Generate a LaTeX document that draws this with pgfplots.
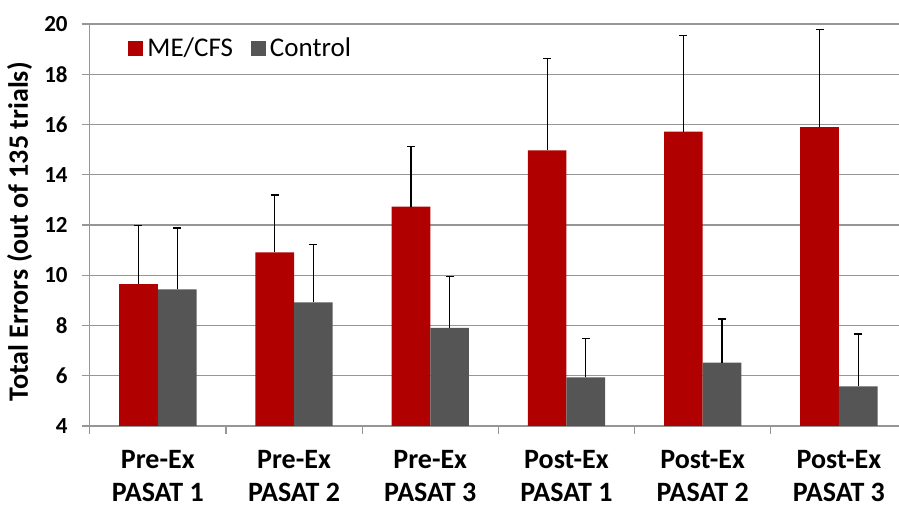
\documentclass[border=0pt]{standalone}
\usepackage{pgfplots}
\pgfplotsset{compat=1.18}
\usepackage{pgfplotstable}
\usepackage{fontspec}
\setmainfont{Carlito}
\definecolor{mered}{RGB}{176,0,0}
\definecolor{ctrlgray}{RGB}{85,85,85}
\definecolor{gridgray}{RGB}{150,150,150}
\pgfplotstableread{
x y err
0 9.65 2.32
1 10.91 2.28
2 12.73 2.40
3 14.97 3.66
4 15.72 3.83
5 15.90 3.87
}\me
\pgfplotstableread{
x y err
0 9.44 2.44
1 8.92 2.31
2 7.91 2.05
3 5.94 1.55
4 6.52 1.74
5 5.58 2.08
}\ctrl
\begin{document}
\begin{tikzpicture}
\begin{axis}[
  scale only axis,
  width=404.65pt, height=201pt,
  xmin=-0.5, xmax=5.441,
  ymin=4, ymax=20,
  ytick={4,6,...,20},
  xtick={0,...,5},
  xticklabels={{Pre-Ex\\PASAT 1},{Pre-Ex\\PASAT 2},{Pre-Ex\\PASAT 3},{Post-Ex\\PASAT 1},{Post-Ex\\PASAT 2},{Post-Ex\\PASAT 3}},
  minor xtick={-0.5,0.5,1.5,2.5,3.5,4.5},
  major x tick style={draw=none},
  minor x tick style={draw=gridgray, line width=0.6pt},
  minor tick length=4pt,
  major tick length=4pt,
  tick align=outside,
  ytick style={draw=gridgray, line width=0.6pt},
  axis x line*=bottom, axis y line*=left,
  axis line style={draw=gridgray, line width=0.6pt, -},
  ymajorgrids,
  grid style={draw=gridgray, line width=0.6pt},
  ybar=0pt, bar width=19.35pt,
  /pgf/number format/assume math mode=true,
  yticklabel style={font=\bfseries\fontsize{11.5}{11.5}\selectfont, xshift=-3.5pt},
  xticklabel style={align=center, font=\bfseries\fontsize{14}{16.5}\selectfont, yshift=-7pt, inner sep=1pt},
  ylabel={\bfseries Total Errors (out of 135 trials)},
  every axis y label/.style={at={(axis description cs:-0.0865,0.483)}, rotate=90, anchor=center, font=\fontsize{14}{14}\selectfont},
  legend style={at={(axis description cs:0.04,0.987)}, anchor=north west, draw=none, fill=none,
    legend columns=2, font=\fontsize{13.5}{13.5}\selectfont,
    /tikz/every even column/.append style={column sep=7pt}},
  legend image code/.code={\fill[#1] (-1pt,-3.75pt) rectangle (6.5pt,3.75pt);},
]
\addplot[fill=mered, draw=none,
  error bars/.cd, y dir=plus, y explicit,
  error bar style={line width=0.6pt, black},
  error mark options={rotate=90, mark size=2pt, line width=0.6pt, black}]
  table[x=x, y=y, y error=err] {\me};
\addlegendentry{ME/CFS}
\addplot[fill=ctrlgray, draw=none,
  error bars/.cd, y dir=plus, y explicit,
  error bar style={line width=0.6pt, black},
  error mark options={rotate=90, mark size=2pt, line width=0.6pt, black}]
  table[x=x, y=y, y error=err] {\ctrl};
\addlegendentry{Control}
\end{axis}
\pgfresetboundingbox
\path[use as bounding box] (-44.85pt,-43pt) rectangle (404.65pt,213pt);
\end{tikzpicture}
\end{document}
